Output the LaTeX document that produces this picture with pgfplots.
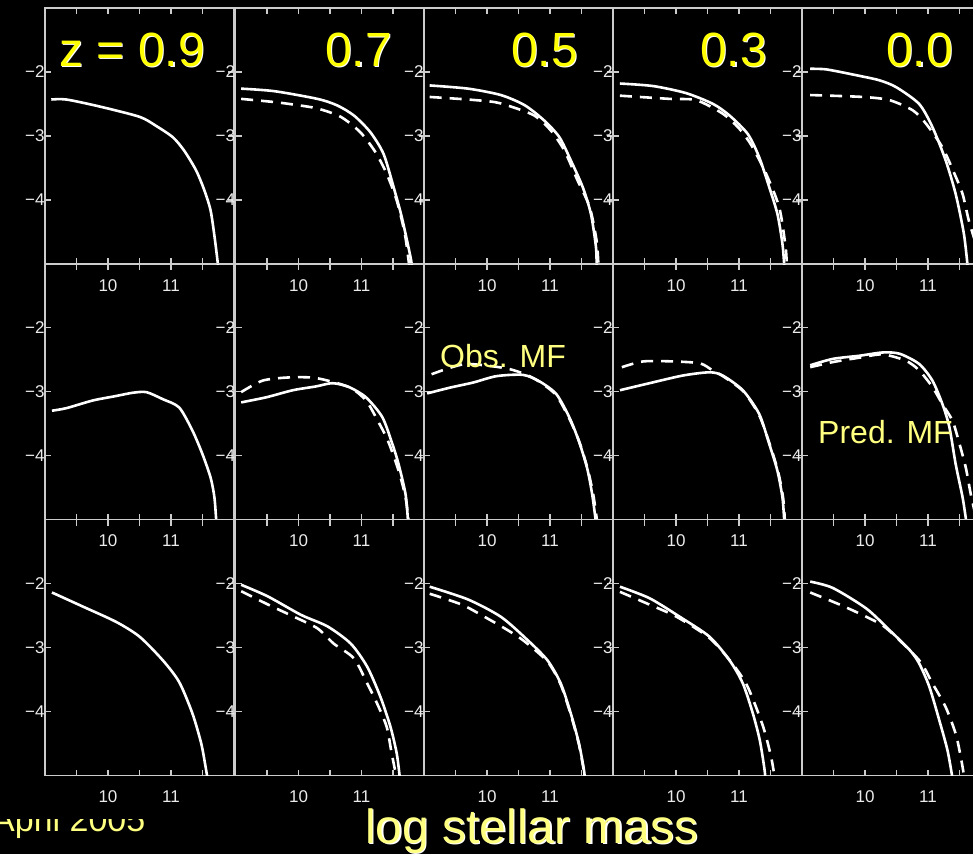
\documentclass[border=0pt]{standalone}
\usepackage{fontspec}
\setmainfont{Liberation Sans}
\usepackage{pgfplots}
\pgfplotsset{compat=1.18}
\definecolor{axgray}{HTML}{CCCCCC}
\definecolor{ylw}{HTML}{FFFF00}
\definecolor{paleylw}{HTML}{FFFF80}
\pgfplotsset{
  panel/.style={scale only axis, width=189pt, height=256pt,
    xmin=9, xmax=12, ymin=-5, ymax=-1, anchor=north west,
    axis line style={draw=axgray, line width=1.2pt},
    xtick={9.5,10,10.5,11,11.5}, xticklabels={,10,,11,},
    ytick={-4,-3,-2}, yticklabels={−4,−3,−2},
    tick align=inside, major tick length=6pt,
    every tick/.style={draw=axgray, line width=1.2pt},
    tick label style={text=black!8, font=\fontsize{17}{17}\selectfont},
    xticklabel style={yshift=-12pt},
    yticklabel style={xshift=3pt},
    clip=true},
  sol/.style={white, line width=2.6pt, no marks, smooth, tension=0.45},
  dsh/.style={white, line width=2.6pt, no marks, smooth, tension=0.45, dash pattern=on 12pt off 8pt},
}
\begin{document}
\begin{tikzpicture}
\useasboundingbox (0pt,0pt) rectangle (973pt,-854pt);
\fill[black] (0pt,0pt) rectangle (973pt,-854pt);
\clip (0pt,0pt) rectangle (973pt,-854pt);
% April 2005 (partly hidden)
\begin{scope}
\clip (0pt,-819pt) rectangle (300pt,-854pt);
\node[anchor=base west, inner sep=0pt, text=paleylw, font=\fontsize{34}{34}\selectfont] at (-8pt,-831pt) {April 2005};
\end{scope}
% ---------------- Row 1
\begin{axis}[panel, at={(45pt,-8pt)}]
\addplot[sol] coordinates {(9.1,-2.43)(9.34,-2.43)(9.87,-2.54)(10.5,-2.70)(10.76,-2.84)(11.03,-3.02)(11.21,-3.23)(11.4,-3.54)(11.53,-3.85)(11.63,-4.17)(11.70,-4.64)(11.75,-5.05)};
\end{axis}
\begin{axis}[panel, at={(235.5pt,-8pt)}]
\addplot[dsh] coordinates {(9.09,-2.42)(9.62,-2.47)(9.93,-2.51)(10.30,-2.57)(10.67,-2.70)(10.98,-2.94)(11.22,-3.25)(11.40,-3.59)(11.56,-4.01)(11.69,-4.54)(11.76,-5.05)};
\addplot[sol] coordinates {(9.09,-2.26)(9.62,-2.30)(10.30,-2.42)(10.61,-2.52)(10.88,-2.68)(11.14,-2.94)(11.35,-3.28)(11.51,-3.80)(11.64,-4.27)(11.78,-4.90)(11.80,-5.05)};
\end{axis}
\begin{axis}[panel, at={(424pt,-8pt)}]
\addplot[dsh] coordinates {(9.09,-2.39)(9.70,-2.43)(10.12,-2.47)(10.38,-2.54)(10.75,-2.68)(11.01,-2.91)(11.23,-3.23)(11.44,-3.70)(11.63,-4.11)(11.74,-4.64)(11.77,-5.05)};
\addplot[sol] coordinates {(9.09,-2.21)(9.70,-2.26)(10.22,-2.36)(10.60,-2.52)(10.91,-2.76)(11.15,-3.02)(11.33,-3.38)(11.52,-3.80)(11.65,-4.22)(11.73,-4.74)(11.74,-5.05)};
\end{axis}
\begin{axis}[panel, at={(613pt,-8pt)}]
\addplot[dsh] coordinates {(9.11,-2.37)(9.90,-2.42)(10.32,-2.44)(10.74,-2.65)(11.0,-2.88)(11.20,-3.15)(11.43,-3.59)(11.64,-4.12)(11.74,-4.74)(11.76,-5.05)};
\addplot[sol] coordinates {(9.11,-2.18)(9.64,-2.22)(10.16,-2.33)(10.59,-2.50)(10.85,-2.68)(11.14,-2.97)(11.32,-3.33)(11.48,-3.80)(11.61,-4.22)(11.69,-4.69)(11.72,-5.05)};
\end{axis}
\begin{axis}[panel, at={(802pt,-8pt)}]
\addplot[dsh] coordinates {(9.13,-2.36)(9.97,-2.39)(10.39,-2.44)(10.76,-2.60)(10.97,-2.81)(11.23,-3.18)(11.42,-3.59)(11.55,-3.91)(11.65,-4.33)(11.78,-4.75)(11.86,-5.05)};
\addplot[sol] coordinates {(9.13,-1.95)(9.39,-1.96)(9.86,-2.05)(10.23,-2.13)(10.50,-2.24)(10.86,-2.50)(11.07,-2.86)(11.28,-3.38)(11.44,-3.91)(11.57,-4.53)(11.63,-5.05)};
\end{axis}
% ---------------- Row 2
\begin{axis}[panel, at={(45pt,-263.5pt)}]
\addplot[sol] coordinates {(9.11,-3.30)(9.34,-3.26)(9.76,-3.14)(10.13,-3.07)(10.39,-3.02)(10.61,-3.01)(10.87,-3.12)(11.13,-3.25)(11.34,-3.61)(11.50,-3.98)(11.63,-4.35)(11.69,-4.66)(11.72,-5.05)};
\end{axis}
\begin{axis}[panel, at={(235.5pt,-263.5pt)}]
\addplot[dsh] coordinates {(9.09,-3.01)(9.43,-2.83)(9.85,-2.78)(10.28,-2.79)(10.80,-2.93)(11.07,-3.14)(11.26,-3.46)(11.42,-3.77)(11.59,-4.24)(11.70,-4.66)(11.75,-5.05)};
\addplot[sol] coordinates {(9.09,-3.17)(9.49,-3.09)(9.91,-2.98)(10.28,-2.92)(10.54,-2.87)(10.80,-2.93)(11.07,-3.09)(11.33,-3.40)(11.49,-3.82)(11.59,-4.14)(11.70,-4.61)(11.74,-5.05)};
\end{axis}
\begin{axis}[panel, at={(424pt,-263.5pt)}]
\addplot[dsh] coordinates {(9.12,-2.73)(9.41,-2.63)(9.67,-2.57)(10.04,-2.60)(10.36,-2.65)(10.63,-2.74)(10.85,-2.86)(11.10,-3.06)(11.31,-3.43)(11.47,-3.80)(11.60,-4.22)(11.69,-4.63)(11.75,-5.05)};
\addplot[sol] coordinates {(9.05,-3.03)(9.41,-2.94)(9.78,-2.86)(10.15,-2.76)(10.57,-2.74)(10.83,-2.84)(11.10,-3.04)(11.31,-3.41)(11.46,-3.78)(11.59,-4.20)(11.67,-4.61)(11.73,-5.05)};
\end{axis}
\begin{axis}[panel, at={(613pt,-263.5pt)}]
\addplot[dsh] coordinates {(9.14,-2.62)(9.48,-2.53)(9.95,-2.53)(10.38,-2.56)(10.58,-2.67)(10.76,-2.77)(11.07,-3.0)(11.32,-3.37)(11.49,-3.83)(11.62,-4.25)(11.70,-4.66)(11.73,-5.05)};
\addplot[sol] coordinates {(9.11,-2.98)(9.58,-2.87)(10.11,-2.75)(10.53,-2.70)(10.74,-2.75)(11.06,-2.98)(11.32,-3.35)(11.48,-3.82)(11.61,-4.24)(11.69,-4.66)(11.72,-5.05)};
\end{axis}
\begin{axis}[panel, at={(802pt,-263.5pt)}]
\addplot[dsh] coordinates {(9.13,-2.62)(9.49,-2.54)(9.92,-2.47)(10.28,-2.42)(10.65,-2.52)(10.86,-2.67)(11.07,-2.93)(11.23,-3.20)(11.39,-3.46)(11.50,-3.82)(11.60,-4.19)(11.68,-4.61)(11.78,-5.05)};
\addplot[sol] coordinates {(9.13,-2.59)(9.49,-2.49)(9.92,-2.44)(10.28,-2.39)(10.55,-2.41)(10.86,-2.57)(11.07,-2.83)(11.23,-3.20)(11.34,-3.56)(11.44,-4.14)(11.55,-4.66)(11.61,-5.05)};
\end{axis}
% ---------------- Row 3
\begin{axis}[panel, at={(45pt,-519.5pt)}]
\addplot[sol] coordinates {(9.11,-2.14)(9.60,-2.36)(10.13,-2.60)(10.50,-2.83)(10.87,-3.20)(11.13,-3.54)(11.34,-4.03)(11.48,-4.50)(11.55,-4.87)(11.58,-5.05)};
\end{axis}
\begin{axis}[panel, at={(235.5pt,-519.5pt)}]
\addplot[dsh] coordinates {(9.09,-2.12)(9.56,-2.35)(9.93,-2.52)(10.30,-2.70)(10.56,-2.94)(10.88,-3.17)(11.09,-3.56)(11.25,-3.88)(11.40,-4.24)(11.48,-4.66)(11.56,-5.05)};
\addplot[sol] coordinates {(9.09,-2.02)(9.51,-2.20)(10.04,-2.49)(10.46,-2.67)(10.83,-2.94)(11.09,-3.30)(11.30,-3.77)(11.46,-4.24)(11.56,-4.66)(11.61,-5.05)};
\end{axis}
\begin{axis}[panel, at={(424pt,-519.5pt)}]
\addplot[dsh] coordinates {(9.09,-2.16)(9.60,-2.33)(9.96,-2.52)(10.33,-2.73)(10.59,-2.90)(10.96,-3.22)(11.17,-3.58)(11.33,-4.05)(11.46,-4.52)(11.56,-5.05)};
\addplot[sol] coordinates {(9.09,-2.05)(9.70,-2.25)(10.22,-2.52)(10.64,-2.88)(10.96,-3.20)(11.17,-3.56)(11.33,-4.03)(11.46,-4.50)(11.54,-4.92)(11.55,-5.05)};
\end{axis}
\begin{axis}[panel, at={(613pt,-519.5pt)}]
\addplot[dsh] coordinates {(9.11,-2.13)(9.58,-2.33)(10.01,-2.52)(10.53,-2.85)(10.87,-3.22)(11.11,-3.56)(11.27,-3.93)(11.40,-4.29)(11.51,-4.71)(11.57,-5.05)};
\addplot[sol] coordinates {(9.11,-2.05)(9.58,-2.23)(10.06,-2.52)(10.53,-2.83)(10.85,-3.20)(11.06,-3.56)(11.22,-4.03)(11.33,-4.45)(11.40,-4.87)(11.42,-5.05)};
\end{axis}
\begin{axis}[panel, at={(802pt,-519.5pt)}]
\addplot[dsh] coordinates {(9.13,-2.14)(9.60,-2.33)(10.02,-2.52)(10.34,-2.70)(10.86,-3.20)(11.07,-3.56)(11.28,-3.93)(11.44,-4.35)(11.52,-4.71)(11.58,-5.05)};
\addplot[sol] coordinates {(9.13,-1.97)(9.49,-2.07)(10.02,-2.39)(10.39,-2.73)(10.71,-3.04)(10.86,-3.25)(11.02,-3.61)(11.18,-4.14)(11.31,-4.61)(11.39,-5.05)};
\end{axis}
% ---------------- Labels
\foreach \xx/\tt in {205/{z = 0.9},392/{0.7},578/{0.5},767/{0.3},953/{0.0}}{
  \node[anchor=base east, inner sep=0pt, text=white, font=\fontsize{48}{48}\selectfont] at (\xx pt+1.3pt,-66pt-1.3pt) {\tt};
  \node[anchor=base east, inner sep=0pt, text=ylw, font=\fontsize{48}{48}\selectfont] at (\xx pt,-66pt) {\tt};
}
\node[anchor=base west, inner sep=0pt, text=paleylw, font=\fontsize{32}{32}\selectfont] at (440pt,-367pt) {Obs. MF};
\node[anchor=base west, inner sep=0pt, text=paleylw, font=\fontsize{32}{32}\selectfont] at (818pt,-443pt) {Pred. MF};
\node[anchor=base west, inner sep=0pt, text=white, font=\fontsize{48}{48}\selectfont] at (366.3pt,-844.3pt) {log stellar mass};
\node[anchor=base west, inner sep=0pt, text=paleylw, font=\fontsize{48}{48}\selectfont] at (365pt,-843pt) {log stellar mass};
\end{tikzpicture}
\end{document}
